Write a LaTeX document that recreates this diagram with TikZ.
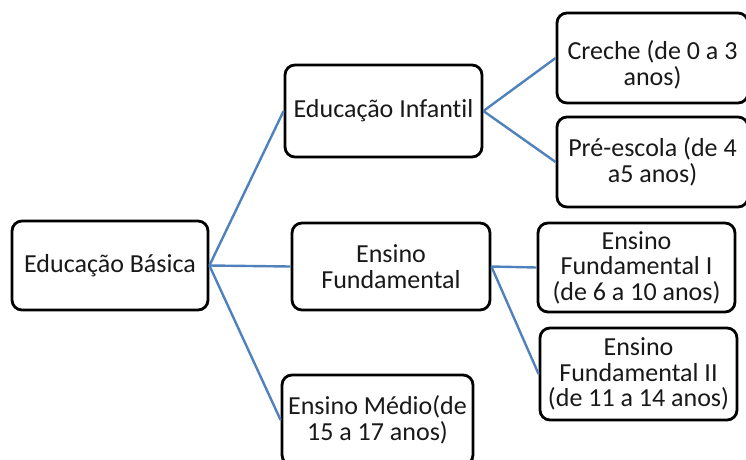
\documentclass[tikz,border=0pt]{standalone}
\usepackage{fontspec}
\setmainfont{Carlito}[Ligatures={NoCommon}]
\definecolor{linkblue}{RGB}{79,129,189}
\begin{document}
\begin{tikzpicture}[x=1pt,y=-1pt,
  box/.style={draw=black, line width=2.8pt, rounded corners=10pt, fill=white,
    align=center, inner sep=0pt, text=black!90, font=\fontsize{26}{25.5}\selectfont},
  link/.style={draw=linkblue, line width=2.4pt}]
\useasboundingbox (0,0) rectangle (746,459);
\node[box, minimum width=196pt, minimum height=89pt] (bas) at (110,265.5) {Educação Básica};
\node[box, minimum width=197pt, minimum height=92pt] (inf) at (383.5,111) {\raisebox{4pt}{Educação Infantil}};
\node[box, minimum width=191pt, minimum height=90pt] (cre) at (652.5,58) {\rule{0pt}{33pt}Creche (de 0 a 3\\anos)};
\node[box, minimum width=191pt, minimum height=90pt] (pre) at (652.5,162) {Pré-escola (de 4\\a5 anos)};
\node[box, minimum width=198pt, minimum height=87pt] (fun) at (391,266.5) {Ensino\\Fundamental};
\node[box, minimum width=197pt, minimum height=89pt] (fa) at (636.5,267.5) {Ensino\\Fundamental I\\(de 6 a 10 anos)};
\node[box, minimum width=197pt, minimum height=92pt] (fb) at (638.5,374) {Ensino\\Fundamental II\\(de 11 a 14 anos)};
\node[box, minimum width=191pt, minimum height=90pt] (med) at (377.5,420) {Ensino Médio(de\\15 a 17 anos)};
\draw[link] (bas.east) -- (inf.west);
\draw[link] (bas.east) -- (fun.west);
\draw[link] (bas.east) -- (med.west);
\draw[link] (inf.east) -- (cre.west);
\draw[link] (inf.east) -- (pre.west);
\draw[link] (fun.east) -- (fa.west);
\draw[link] (fun.east) -- (fb.west);
\end{tikzpicture}
\end{document}
